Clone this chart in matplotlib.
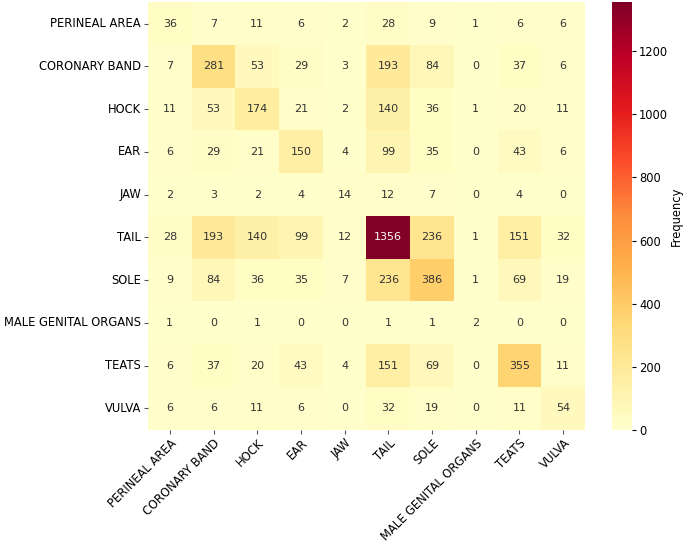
import numpy as np
import matplotlib
matplotlib.use("Agg")
import matplotlib.pyplot as plt
import seaborn as sns

labels = ["PERINEAL AREA", "CORONARY BAND", "HOCK", "EAR", "JAW", "TAIL",
          "SOLE", "MALE GENITAL ORGANS", "TEATS", "VULVA"]

perineal = [36, 7, 11, 6, 2, 28, 9, 1, 6, 6]
coronary = [7, 281, 53, 29, 3, 193, 84, 0, 37, 6]
hock = [11, 53, 174, 21, 2, 140, 36, 1, 20, 11]
ear = [6, 29, 21, 150, 4, 99, 35, 0, 43, 6]
jaw = [2, 3, 2, 4, 14, 12, 7, 0, 4, 0]
tail = [28, 193, 140, 99, 12, 1356, 236, 1, 151, 32]
sole = [9, 84, 36, 35, 7, 236, 386, 1, 69, 19]
male = [1, 0, 1, 0, 0, 1, 1, 2, 0, 0]
teats = [6, 37, 20, 43, 4, 151, 69, 0, 355, 11]
vulva = [6, 6, 11, 6, 0, 32, 19, 0, 11, 54]

data = np.array([perineal, coronary, hock, ear, jaw, tail, sole, male, teats, vulva])

fig = plt.figure(figsize=(6.85, 5.44), dpi=100)
ax = fig.add_axes([0.216, 0.21, 0.638, 0.786])
cax = fig.add_axes([0.893, 0.21, 0.030, 0.786])

sns.heatmap(data, ax=ax, cbar_ax=cax, cmap="YlOrRd", annot=True, fmt="d",
            annot_kws={"fontsize": 8, "color": "#333333"},
            xticklabels=labels, yticklabels=labels,
            cbar_kws={"label": "Frequency"})

for t in ax.texts:
    try:
        v = int(t.get_text())
    except ValueError:
        continue
    t.set_color("white" if v > 800 else "#333333")

ax.set_xticklabels(labels, rotation=45, ha="right", rotation_mode="anchor", fontsize=8.3)
ax.set_yticklabels(labels, rotation=0, fontsize=8.3)
ax.tick_params(axis="both", length=3, pad=2, color="#555555")
cax.tick_params(labelsize=8.3, length=3, pad=2)
cax.set_ylabel("Frequency", fontsize=8.3, labelpad=1)

fig.savefig("out.png", dpi=100)
